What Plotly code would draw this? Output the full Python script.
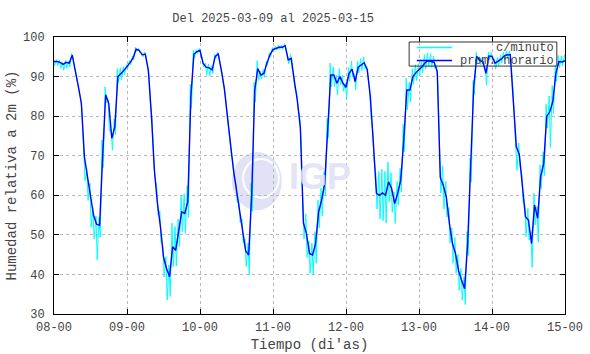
import pandas as pd
import plotly.graph_objects as go

# hourly means (prom. horario), one list per day
d08 = [93.8, 93.8, 93.6, 93.1, 93.6, 93.4, 95.4, 91.7, 87.5, 83.2, 69.7, 64.7,
       60.0, 55.0, 52.7, 52.4, 70.0, 85.4, 83.2, 74.4, 77.3, 90.0, 90.7, 91.5]
d09 = [92.5, 93.5, 94.7, 96.9, 96.6, 95.5, 95.7, 91.7, 80.7, 66.4, 58.0, 52.0,
       44.4, 41.5, 39.4, 47.0, 46.1, 51.0, 55.8, 55.4, 58.4, 85.0, 95.7, 96.3]
d10 = [96.6, 93.4, 92.4, 92.2, 91.7, 95.1, 95.7, 91.7, 87.0, 80.0, 73.0, 66.4,
       61.3, 56.2, 52.0, 46.0, 44.9, 60.0, 86.6, 92.0, 90.4, 90.8, 93.4, 95.5]
d11 = [96.8, 97.2, 97.4, 97.4, 97.8, 94.2, 94.6, 89.0, 84.0, 77.0, 53.0, 50.3,
       45.3, 44.9, 47.8, 55.8, 58.8, 63.0, 76.5, 90.4, 90.4, 88.3, 90.0, 88.3]
d12 = [87.3, 90.8, 91.9, 88.7, 92.4, 93.0, 93.5, 91.7, 84.9, 73.1, 60.5, 60.0,
       60.6, 60.0, 63.4, 61.7, 57.9, 60.5, 63.8, 74.0, 86.6, 86.6, 90.0, 91.0]
d13 = [91.7, 92.5, 93.5, 94.0, 93.8, 93.6, 91.2, 64.5, 62.5, 59.5, 52.9, 47.8,
       45.3, 41.0, 38.5, 36.4, 47.8, 66.4, 87.5, 95.1, 94.0, 93.8, 90.8, 95.2]
d14 = [95.1, 93.4, 93.8, 94.4, 95.2, 95.5, 95.5, 85.0, 72.3, 70.2, 62.2, 54.6,
       53.7, 47.8, 57.5, 54.2, 64.7, 68.0, 80.0, 81.1, 83.7, 90.8, 93.8, 93.7]
d15 = [94.0]

# per-minute spread around the hourly mean (above / below), read per hour
up08 = [0.5,0.5,0.5,0.5,0.5,0.5,0.5,0.5,1,1,2,2,3,2,2,2,4,2,1,2,2,2,1.5,1]
dn08 = [1,1,1.5,1.5,1.5,1,0.5,1,1,2,6,6,8,6,9,3,3,2,7,3,2,1.5,1.5,1]
up09 = [0.5,0.5,0.5,0.5,0.5,0.5,0.5,0.5,1,2,4,4,3,3,3,6,6,3,4,5,4,3,1,0.5]
dn09 = [0.5,0.5,0.5,0.5,0.5,0.5,0.5,1,1,2,3,4,5,8,5,5,4,4,5,5,4,3,1,0.5]
up10 = [0.5,1,1,1,1,0.5,0.5,1,1,1.5,2,2,2,2,2,3,3,3,2,2,1,1,0.5,0.5]
dn10 = [0.5,1,2,2,1,0.5,0.5,1,1,1.5,2,2,3,3,4,4,5,4,3,3,1,1,0.5,0.5]
up11 = [0.5,0.5,0.5,0.5,0.5,1,1,1,2,3,5,5,3,3,3,3,3,3,3,3,2,2,2,2]
dn11 = [0.5,0.5,0.5,0.5,0.5,1,2,2,2,3,4,6,5,5,5,4,4,3,2,3,3,3,2,2]
up12 = [1,1.5,2,2,1.5,1.5,1.5,1,1.5,3,5,6,6,6,5,4,3,3,3,4,3,2,2,2]
dn12 = [3,2,2,2,1.5,1.5,1.5,1.5,5,4,4,6,7,7,5,6,5,3,3,3,5,3,2,2]
up13 = [1.5,1.5,2,2,2,1.5,1.5,3,5,4,4,4,4,4,3,3,3,3,1.5,1,1,1,1.5,1]
dn13 = [1.5,1.5,1.5,1.5,1.5,1.5,3,4,6,5,5,5,5,5,5,4,3,3,2,1.5,1,1,3,1]
up14 = [1,1,1,1,1,1,1,3,3,3,3,3,3,3,3,3,3,3,3,4,4,2,1.5,1.5]
dn14 = [1,1.5,1,1,1,1,1,3,6,3,4,5,5,6,5,6,3,3,3,9,3,2,1.5,1]
up15 = [1.5]
dn15 = [0.5]

prom = d08 + d09 + d10 + d11 + d12 + d13 + d14 + d15
up = up08 + up09 + up10 + up11 + up12 + up13 + up14 + up15
dn = dn08 + dn09 + dn10 + dn11 + dn12 + dn13 + dn14 + dn15

hours = pd.date_range("2025-03-08 00:00", periods=len(prom), freq="h")
tick_vals = pd.date_range("2025-03-08", "2025-03-15", freq="D")
y_ticks = [30, 40, 50, 60, 70, 80, 90, 100]
legend_names = ["c/minuto", "prom. horario"]
colors = ["#00FFFF", "#0000FF"]

# per-minute trace drawn from the read extents of each hour
cx, cy = [], []
off = pd.Timedelta(minutes=12)
for t, v, u, d in zip(hours, prom, up, dn):
    cx += [t - off, t + off]
    cy += [v + u, v - d]

font = "Liberation Mono, Courier New, monospace"
txt = "#444"
fig = go.Figure()
fig.add_trace(go.Scatter(x=cx, y=cy, mode="lines", name=legend_names[0],
                         line=dict(color=colors[0], width=1), showlegend=False))
fig.add_trace(go.Scatter(x=hours, y=prom, mode="lines", name=legend_names[1],
                         line=dict(color=colors[1], width=1.4), showlegend=False))

# IGP watermark
fig.add_shape(type="circle", xref="paper", yref="paper", x0=0.348, x1=0.446,
              y0=0.375, y1=0.585, fillcolor="#e2e2f6", line=dict(width=0),
              layer="below")
fig.add_shape(type="circle", xref="paper", yref="paper", x0=0.37, x1=0.44,
              y0=0.42, y1=0.56, fillcolor="rgba(0,0,0,0)",
              line=dict(color="white", width=2), layer="below")
fig.add_annotation(text="<b>IGP</b>", xref="paper", yref="paper", x=0.52, y=0.495,
                   showarrow=False, font=dict(family="Liberation Sans, Arial", size=36,
                                              color="#e2e2f6"), opacity=0.9)

# legend box (drawn by hand to match the original's compact layout)
fig.add_shape(type="rect", xref="paper", yref="paper", x0=0.695, x1=0.984,
              y0=0.895, y1=0.982, line=dict(color="#333", width=1),
              fillcolor="rgba(0,0,0,0)")
for i, (nm, col) in enumerate(zip(legend_names, colors)):
    yy = 0.962 - i * 0.047
    fig.add_shape(type="line", xref="paper", yref="paper", x0=0.710, x1=0.779,
                  y0=yy, y1=yy, line=dict(color=col, width=1.4))
    fig.add_annotation(text=nm, xref="paper", yref="paper", x=0.982, y=yy,
                       xanchor="right", yanchor="middle", showarrow=False,
                       font=dict(family=font, size=12, color=txt))

fig.update_layout(
    width=590, height=354,
    margin=dict(l=54, r=25, t=37, b=40),
    paper_bgcolor="white", plot_bgcolor="white",
    title=dict(text="Del 2025-03-09 al 2025-03-15", xref="container", x=0.463,
               xanchor="center", yref="container", y=0.95, yanchor="middle",
               automargin=False, font=dict(family=font, size=12, color=txt)),
    font=dict(family=font, size=12, color=txt),
    showlegend=False,
)
fig.update_xaxes(
    range=[tick_vals[0], tick_vals[-1]], tickvals=tick_vals, tickformat="%d-%H",
    showline=True, linecolor="black", linewidth=1, mirror="ticks",
    ticks="inside", ticklen=5, tickcolor="black", automargin=False,
    showgrid=True, gridcolor="#b8b8b8", griddash="dot", gridwidth=1,
    zeroline=False, title=dict(text="Tiempo (di'as)", standoff=4),
    tickfont=dict(family=font, size=12, color=txt), ticklabelstandoff=2,
)
fig.update_yaxes(
    range=[30, 100], tickvals=y_ticks,
    showline=True, linecolor="black", linewidth=1, mirror="ticks",
    ticks="inside", ticklen=5, tickcolor="black", automargin=False,
    showgrid=True, gridcolor="#b8b8b8", griddash="dot", gridwidth=1,
    zeroline=False, title=dict(text="Humedad relativa a 2m (%)", standoff=3),
    tickfont=dict(family=font, size=12, color=txt), ticklabelstandoff=6,
)
fig.write_html("out.html", config={"displayModeBar": False},
               post_script="document.body.style.margin='0';document.body.style.padding='0';")
